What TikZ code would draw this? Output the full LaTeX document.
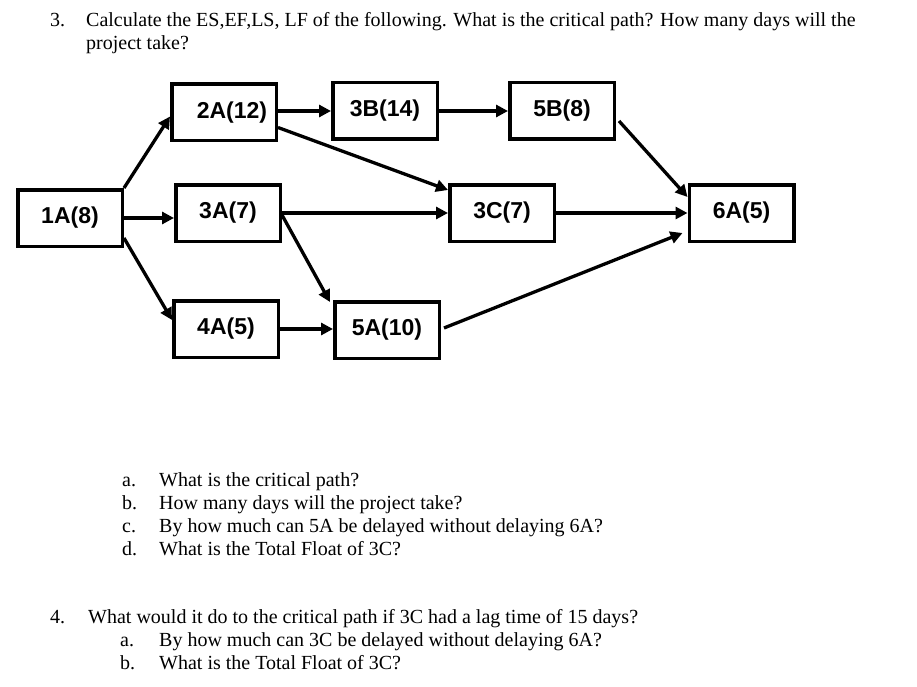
\documentclass[tikz,border=0pt]{standalone}
\usepackage{fontspec}
\setmainfont{Liberation Serif}
\newfontfamily\boxfont{Liberation Sans}
\usetikzlibrary{arrows.meta}
\begin{document}
\begin{tikzpicture}[x=1pt,y=-1pt,
  act/.style={draw,line width=3.5pt,minimum width=104.5pt,minimum height=56.5pt,inner sep=0pt,
    font=\boxfont\bfseries\fontsize{23}{27}\selectfont},
  link/.style={line width=3.3pt,-{Triangle[length=12pt,width=12pt]}},
  txt/.style={anchor=base west,inner sep=0pt,font=\fontsize{20}{23}\selectfont}]
\useasboundingbox (0,0) rectangle (917,687);

% header
\node[txt] (q3n) at (50,27) {3.};
\node[txt] (q3a) at (86,27) {Calculate the ES,EF,LS, LF of the following. What is the critical path? How many days will the};
\node[txt] (q3b) at (86,50) {project take?};

% activity boxes
\node[act] (b1A) at (70,218)    {1A(8)};
\node[act] (b2A) at (224,112.5) {\hspace*{16pt}2A(12)};
\node[act] (b3B) at (385,111)   {3B(14)};
\node[act] (b5B) at (562,111)   {5B(8)};
\node[act] (b3A) at (228,213)   {3A(7)};
\node[act] (b3C) at (502,213)   {3C(7)};
\node[act] (b6A) at (741.5,213) {6A(5)};
\node[act] (b4A) at (226,329)   {4A(5)};
\node[act] (b5A) at (387,330)   {5A(10)};

% connectors
\draw[link] (b1A.north east) -- ([yshift=-4pt]b2A.west);
\draw[link] (b1A.east) -- (b1A.east -| b3A.west);
\draw[link] ([yshift=10pt]b1A.south east) -- ([yshift=9pt]b4A.west);
\draw[link] (b2A.east |- b3B.west) -- (b3B.west);
\draw[link] ([yshift=-15pt]b2A.east) -- ([yshift=-7pt]b3C.north west);
\draw[link] (b3A.east) -- (b3C.west);
\draw[link] ([yshift=-2pt]b3A.east) -- ([xshift=-3pt,yshift=-2pt]b5A.north west);
\draw[link] (b4A.east) -- (b4A.east -| b5A.west);
\draw[link] (b3B.east) -- (b3B.east -| b5B.west);
\draw[link] ([xshift=3pt,yshift=-10pt]b5B.east) -- ([yshift=-14pt]b6A.north west);
\draw[link] (b3C.east) -- (b6A.west);
\draw[link] ([xshift=3pt,yshift=2pt]b5A.east) -- ([xshift=-5pt,yshift=10pt]b6A.south west);

% questions
\node[txt] (la) at (122,486) {a.};
\node[txt] (ta) at (159,486) {What is the critical path?};
\node[txt] (lb) at (122,509) {b.};
\node[txt] (tb) at (159,509) {How many days will the project take?};
\node[txt] (lc) at (122,532) {c.};
\node[txt] (tc) at (159,532) {By how much can 5A be delayed without delaying 6A?};
\node[txt] (ld) at (122,555) {d.};
\node[txt] (td) at (159,555) {What is the Total Float of 3C?};

\node[txt] (q4n) at (50,623) {4.};
\node[txt] (q4a) at (88,623) {What would it do to the critical path if 3C had a lag time of 15 days?};
\node[txt] (l4a) at (120,646) {a.};
\node[txt] (t4a) at (159,646) {By how much can 3C be delayed without delaying 6A?};
\node[txt] (l4b) at (120,669) {b.};
\node[txt] (t4b) at (159,669) {What is the Total Float of 3C?};
\end{tikzpicture}
\end{document}
